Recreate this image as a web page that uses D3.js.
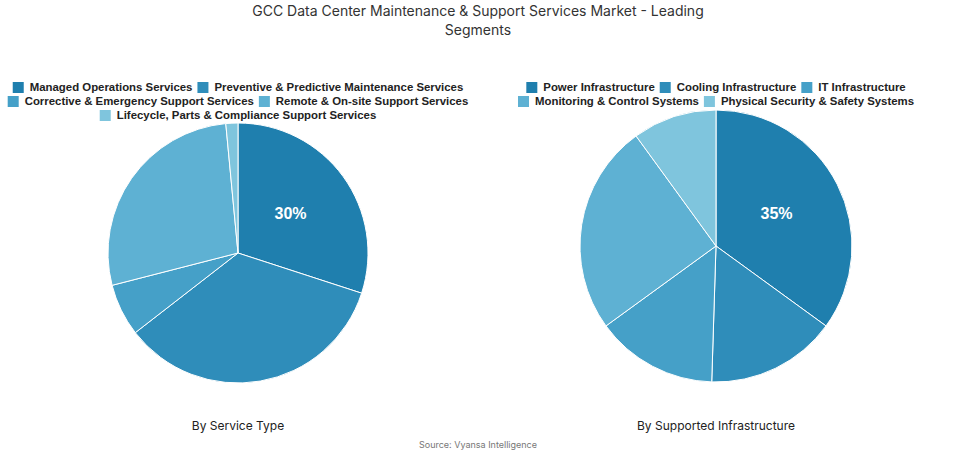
<!DOCTYPE html><html><head><script src="https://cdn.jsdelivr.net/npm/d3@7"></script>
<style>body{margin:0;background:#fff}</style></head><body><svg id="c" width="955" height="454"></svg>
<script>
const leftCats=["Managed Operations Services","Preventive & Predictive Maintenance Services","Corrective & Emergency Support Services","Remote & On-site Support Services","Lifecycle, Parts & Compliance Support Services"];
const leftVals=[30,34.5,6.5,27.5,1.5];
const rightCats=["Power Infrastructure","Cooling Infrastructure","IT Infrastructure","Monitoring & Control Systems","Physical Security & Safety Systems"];
const rightVals=[35,15.5,14.5,25,10];
const colors=["#1f7fae","#2f8dba","#45a0c8","#5eb1d3","#7fc5dd"];
const svg=d3.select("#c");
svg.append("text").attr("x",478).attr("y",16).attr("text-anchor","middle").attr("font-family","Inter").attr("font-size",14).attr("fill","#333").text("GCC Data Center Maintenance & Support Services Market - Leading");
svg.append("text").attr("x",478).attr("y",35).attr("text-anchor","middle").attr("font-family","Inter").attr("font-size",14).attr("fill","#333").text("Segments");
svg.append("text").attr("x",478).attr("y",448).attr("text-anchor","middle").attr("font-family","Inter").attr("font-size",9).attr("fill","#777").text("Source: Vyansa Intelligence");
function legend(rows,cats){
  rows.forEach(r=>{
    const g=svg.append("g");
    let widths=r.idx.map(i=>{const t=g.append("text").attr("font-family","Liberation Sans").attr("font-weight","bold").attr("font-size",11.4).text(cats[i]);const w=t.node().getComputedTextLength();t.remove();return w;});
    const total=d3.sum(widths)+r.idx.length*17+(r.idx.length-1)*5;
    let x=r.cx-total/2;
    r.idx.forEach((i,k)=>{
      g.append("rect").attr("x",x).attr("y",r.y-9).attr("width",11).attr("height",11).attr("fill",colors[i]);
      g.append("text").attr("x",x+17).attr("y",r.y).attr("font-family","Liberation Sans").attr("font-weight","bold").attr("font-size",11.4).attr("fill","#222").text(cats[i]);
      x+=17+widths[k]+5;
    });
  });
}
function pie(vals,cx,cy,r,label,title){
  const arcs=d3.pie().sort(null)(vals);
  const arc=d3.arc().innerRadius(0).outerRadius(r);
  const g=svg.append("g").attr("transform",`translate(${cx},${cy})`);
  g.selectAll("path").data(arcs).join("path").attr("d",arc).attr("fill",(d,i)=>colors[i]).attr("stroke","#fff").attr("stroke-width",1);
  const c=arc.centroid(arcs[0]);
  g.append("text").attr("x",c[0]).attr("y",c[1]).attr("text-anchor","middle").attr("dominant-baseline","middle").attr("font-family","Liberation Sans").attr("font-weight","bold").attr("font-size",16).attr("fill","#fff").text(label);
  svg.append("text").attr("x",cx).attr("y",430).attr("text-anchor","middle").attr("font-family","Inter").attr("font-size",12).attr("fill","#222").text(title);
}
legend([{cx:238,y:91,idx:[0,1]},{cx:238,y:105,idx:[2,3]},{cx:238,y:119,idx:[4]}],leftCats);
legend([{cx:716,y:91,idx:[0,1,2]},{cx:716,y:105,idx:[3,4]}],rightCats);
pie(leftVals,238,253,130,"30%","By Service Type");
pie(rightVals,716,246,136,"35%","By Supported Infrastructure");
</script></body></html>
